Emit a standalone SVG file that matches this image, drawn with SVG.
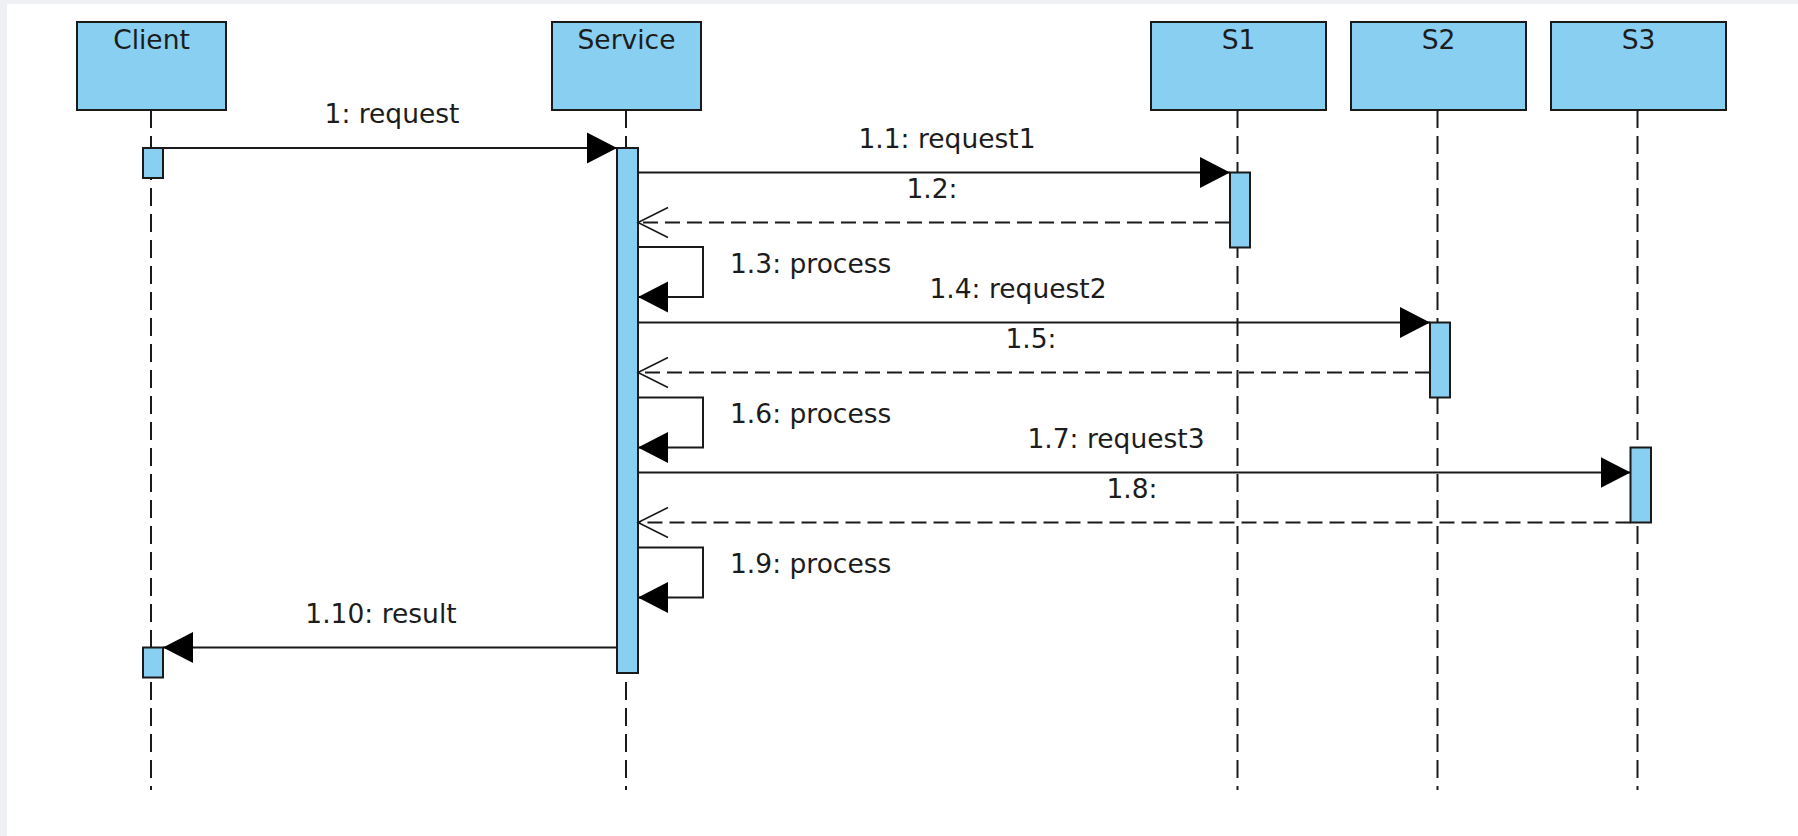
<svg xmlns="http://www.w3.org/2000/svg" width="1798" height="836" viewBox="0 0 1798 836">
<style>
.bg{fill:#ffffff}
.frame{fill:#eef0f3}
.box{fill:#88cff1;stroke:#1a1a1a;stroke-width:2}
.act{fill:#88cff1;stroke:#1a1a1a;stroke-width:2}
.life{stroke:#1a1a1a;stroke-width:2;stroke-dasharray:18 8;fill:none}
.msg{stroke:#1a1a1a;stroke-width:2;fill:none}
.ret{stroke:#1a1a1a;stroke-width:2;fill:none;stroke-dasharray:15 7}
text{font-family:"DejaVu Sans","Liberation Sans",sans-serif;font-size:26.5px;fill:#1c1c1c}
.c{text-anchor:middle}
</style>
<defs>
<marker id="filled" markerUnits="userSpaceOnUse" markerWidth="32" markerHeight="34" refX="30" refY="16" orient="auto" viewBox="0 0 32 34">
<path d="M0,0.5 L30,16 L0,31.5 Z" fill="#000000" stroke="none"/>
</marker>
<marker id="open" markerUnits="userSpaceOnUse" markerWidth="34" markerHeight="34" refX="31" refY="16" orient="auto" viewBox="0 0 34 34">
<path d="M1,1 L31,16 L1,31" fill="none" stroke="#1a1a1a" stroke-width="1.6" stroke-dasharray="none"/>
</marker>
</defs>
<rect class="bg" x="0" y="0" width="1798" height="836"/>
<rect class="frame" x="0" y="0" width="1798" height="4"/>
<rect class="frame" x="0" y="0" width="7" height="836"/>

<g id="lifelines">
<line class="life" x1="151" y1="110" x2="151" y2="790"/>
<line class="life" x1="626" y1="110" x2="626" y2="790"/>
<line class="life" x1="1237.5" y1="110" x2="1237.5" y2="790"/>
<line class="life" x1="1437.5" y1="110" x2="1437.5" y2="790"/>
<line class="life" x1="1637.5" y1="110" x2="1637.5" y2="790"/>
</g>

<g id="node-client">
<rect class="box" x="77" y="22" width="149" height="88"/>
<text class="c" x="151.5" y="49">Client</text>
</g>
<g id="node-service">
<rect class="box" x="552" y="22" width="149" height="88"/>
<text class="c" x="626.5" y="49">Service</text>
</g>
<g id="node-s1">
<rect class="box" x="1151" y="22" width="175" height="88"/>
<text class="c" x="1238.5" y="49">S1</text>
</g>
<g id="node-s2">
<rect class="box" x="1351" y="22" width="175" height="88"/>
<text class="c" x="1438.5" y="49">S2</text>
</g>
<g id="node-s3">
<rect class="box" x="1551" y="22" width="175" height="88"/>
<text class="c" x="1638.5" y="49">S3</text>
</g>

<g id="activations">
<rect class="act" x="143" y="148" width="20" height="30"/>
<rect class="act" x="143" y="647.5" width="20" height="30"/>
<rect class="act" x="617" y="148" width="21" height="525"/>
<rect class="act" x="1230" y="172.5" width="20" height="75"/>
<rect class="act" x="1430" y="322.5" width="20" height="75"/>
<rect class="act" x="1630.5" y="447.5" width="20.5" height="75"/>
</g>

<g id="connectors">
<line class="msg" x1="163" y1="148" x2="617" y2="148" marker-end="url(#filled)"/>
<line class="msg" x1="638" y1="172.5" x2="1230" y2="172.5" marker-end="url(#filled)"/>
<line class="ret" x1="1230" y1="222.5" x2="638" y2="222.5" marker-end="url(#open)"/>
<path class="msg" d="M638,247 H703 V297 H638" marker-end="url(#filled)"/>
<line class="msg" x1="638" y1="322.5" x2="1430" y2="322.5" marker-end="url(#filled)"/>
<line class="ret" x1="1430" y1="372.5" x2="638" y2="372.5" marker-end="url(#open)"/>
<path class="msg" d="M638,397.5 H703 V447.5 H638" marker-end="url(#filled)"/>
<line class="msg" x1="638" y1="472.5" x2="1630.5" y2="472.5" marker-end="url(#filled)"/>
<line class="ret" x1="1630.5" y1="522.5" x2="638" y2="522.5" marker-end="url(#open)"/>
<path class="msg" d="M638,547.5 H703 V597.5 H638" marker-end="url(#filled)"/>
<line class="msg" x1="617" y1="647.5" x2="163" y2="647.5" marker-end="url(#filled)"/>
</g>

<g id="labels">
<text class="c" x="392" y="123">1: request</text>
<text class="c" x="947" y="148">1.1: request1</text>
<text class="c" x="932" y="198">1.2:</text>
<text x="730" y="273">1.3: process</text>
<text class="c" x="1018" y="298">1.4: request2</text>
<text class="c" x="1031" y="348">1.5:</text>
<text x="730" y="423">1.6: process</text>
<text class="c" x="1116" y="448">1.7: request3</text>
<text class="c" x="1132" y="498">1.8:</text>
<text x="730" y="573">1.9: process</text>
<text class="c" x="381" y="623">1.10: result</text>
</g>
</svg>
